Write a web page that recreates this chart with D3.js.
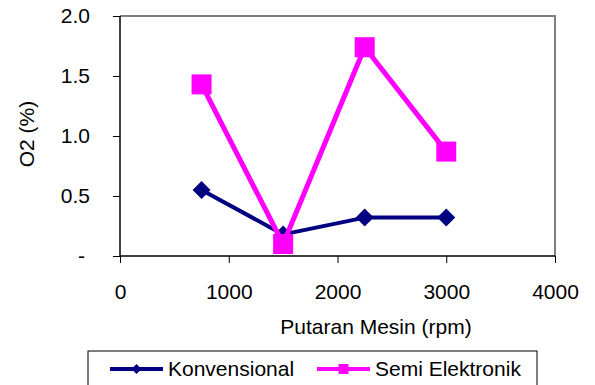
<!DOCTYPE html>
<html>
<head>
<meta charset="utf-8">
<script src="https://cdn.jsdelivr.net/npm/d3@7"></script>
<style>
  html, body { margin: 0; padding: 0; background: #fff; }
  svg { display: block; font-family: "Liberation Sans", Arial, sans-serif; }
</style>
</head>
<body>
<svg id="chart" width="595" height="385"></svg>
<script>
// data
const rpm = [750, 1500, 2250, 3000];
const konvensional = [0.55, 0.18, 0.32, 0.32];
const semiElektronik = [1.43, 0.10, 1.74, 0.87];
const xTicks = [0, 1000, 2000, 3000, 4000];
const yTicks = [0, 0.5, 1.0, 1.5, 2.0];

const series = [
  { name: 'Konvensional', values: konvensional, color: '#000080', width: 4, marker: 'diamond' },
  { name: 'Semi Elektronik', values: semiElektronik, color: '#FF00FF', width: 5, marker: 'square' }
];

const FS = 21;
const svg = d3.select('#chart');
const margin = { top: 16, right: 40, bottom: 129, left: 120 };
const W = 595, H = 385;
const iW = W - margin.left - margin.right;
const iH = H - margin.top - margin.bottom;

const x = d3.scaleLinear().domain([0, 4000]).range([0, iW]);
const y = d3.scaleLinear().domain([0, 2]).range([iH, 0]);

const g = svg.append('g').attr('transform', `translate(${margin.left},${margin.top})`);

/* frame: top + right grey */
g.append('path')
  .attr('d', `M0,0H${iW}V${iH}`)
  .attr('fill', 'none')
  .attr('stroke', '#808080')
  .attr('stroke-width', 2);

/* axes */
g.append('g')
  .attr('transform', `translate(0,${iH})`)
  .call(d3.axisBottom(x).tickValues(xTicks).tickSize(7).tickPadding(21).tickFormat(d3.format('d')))
  .call((a) => a.select('.domain').attr('stroke', '#000').attr('stroke-width', 1.5).attr('d', `M0,0H${iW}`))
  .call((a) => a.selectAll('line').attr('stroke', '#000').attr('stroke-width', 1))
  .call((a) => a.selectAll('text').attr('font-size', FS).attr('fill', '#000').attr('font-family', null));

g.append('g')
  .call(d3.axisLeft(y).tickValues(yTicks).tickSize(7).tickPadding(23)
    .tickFormat((v) => v === 0 ? '-' : d3.format('.1f')(v)))
  .call((a) => a.select('.domain').attr('stroke', '#000').attr('stroke-width', 1.5).attr('d', `M0,0V${iH}`))
  .call((a) => a.selectAll('line').attr('stroke', '#000').attr('stroke-width', 1))
  .call((a) => a.selectAll('text').attr('font-size', FS).attr('fill', '#000').attr('font-family', null)
    .attr('dx', (v) => v === 0 ? -5 : 0));

/* axis titles */
svg.append('text')
  .attr('x', 376)
  .attr('y', 334)
  .attr('text-anchor', 'middle')
  .attr('font-size', FS)
  .text('Putaran Mesin (rpm)');

svg.append('text')
  .attr('transform', 'translate(34,134) rotate(-90)')
  .attr('text-anchor', 'middle')
  .attr('font-size', FS)
  .text('O2 (%)');

/* markers */
function drawMarker(sel, type, color, size) {
  if (type === 'diamond') {
    sel.append('path')
      .attr('d', `M0,${-size}L${size},0L0,${size}L${-size},0Z`)
      .attr('fill', color);
  } else {
    sel.append('rect')
      .attr('x', -size).attr('y', -size)
      .attr('width', size * 2).attr('height', size * 2)
      .attr('fill', color);
  }
}

const line = d3.line().x((d) => x(d[0])).y((d) => y(d[1]));

series.forEach((s) => {
  const pts = rpm.map((r, i) => [r, s.values[i]]);
  g.append('path')
    .datum(pts)
    .attr('d', line)
    .attr('fill', 'none')
    .attr('stroke', s.color)
    .attr('stroke-width', s.width)
    .attr('stroke-linejoin', 'round');
  pts.forEach((p) => {
    const m = g.append('g').attr('transform', `translate(${x(p[0])},${y(p[1])})`);
    drawMarker(m, s.marker, s.color, s.marker === 'diamond' ? 9 : 10);
  });
});

/* legend */
const lg = svg.append('g');
lg.append('rect')
  .attr('x', 88).attr('y', 351)
  .attr('width', 449).attr('height', 44)
  .attr('fill', '#fff')
  .attr('stroke', '#000')
  .attr('stroke-width', 1);

const legendX = [110, 317];
series.forEach((s, i) => {
  const item = lg.append('g').attr('transform', `translate(${legendX[i]},369)`);
  item.append('line')
    .attr('x1', 0).attr('x2', 53)
    .attr('stroke', s.color)
    .attr('stroke-width', 4);
  const m = item.append('g').attr('transform', 'translate(26.5,0)');
  drawMarker(m, s.marker, s.color, 5);
  item.append('text')
    .attr('x', 58)
    .attr('y', 7)
    .attr('font-size', FS)
    .text(s.name);
});
</script>
</body>
</html>
